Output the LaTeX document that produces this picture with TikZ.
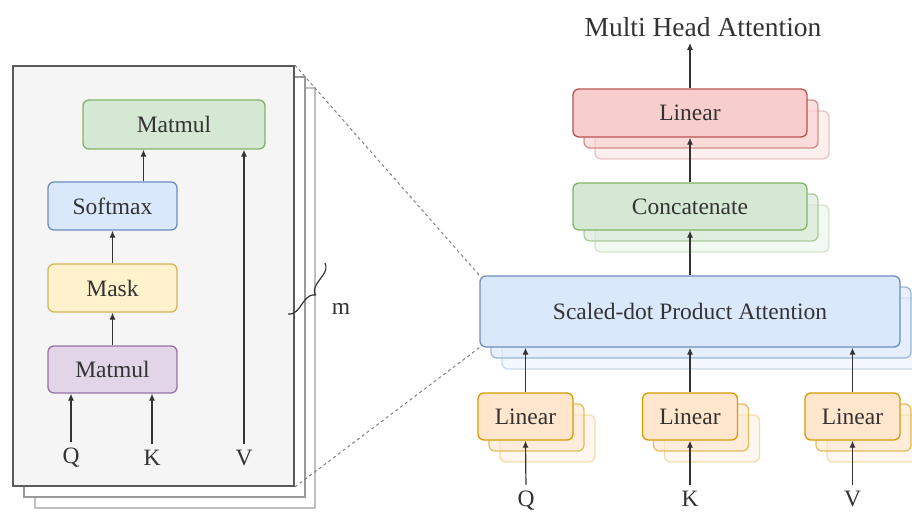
\documentclass[tikz,border=0pt]{standalone}
\usepackage{fontspec}
\setmainfont{Liberation Serif}
\usetikzlibrary{arrows.meta,decorations.pathreplacing}
\definecolor{txt}{HTML}{333333}
\definecolor{gfill}{HTML}{D5E8D4}\definecolor{gdraw}{HTML}{82B366}
\definecolor{bfill}{HTML}{DAE8FC}\definecolor{bdraw}{HTML}{6C8EBF}
\definecolor{yfill}{HTML}{FFF2CC}\definecolor{ydraw}{HTML}{D6B656}
\definecolor{pfill}{HTML}{E1D5E7}\definecolor{pdraw}{HTML}{9673A6}
\definecolor{ofill}{HTML}{FFE6CC}\definecolor{odraw}{HTML}{D79B00}
\definecolor{rfill}{HTML}{F8CECC}\definecolor{rdraw}{HTML}{B85450}
\definecolor{panelfill}{HTML}{F5F5F5}\definecolor{paneldraw}{HTML}{5A5A5A}
\tikzset{
  box/.style={rectangle, rounded corners=6pt, line width=1.3pt, inner sep=0pt,
    font=\fontsize{23.5}{28}\selectfont, text=txt},
  greenbox/.style={box, fill=gfill, draw=gdraw},
  bluebox/.style={box, fill=bfill, draw=bdraw},
  yellowbox/.style={box, fill=yfill, draw=ydraw},
  purplebox/.style={box, fill=pfill, draw=pdraw},
  orangebox/.style={box, fill=ofill, draw=odraw},
  redbox/.style={box, fill=rfill, draw=rdraw},
  ghosta/.style={fill opacity=0.6, draw opacity=0.6},
  ghostb/.style={fill opacity=0.3, draw opacity=0.3},
  lbl/.style={font=\fontsize{23.5}{28}\selectfont, text=txt, inner sep=2pt},
  arr/.style={draw=txt, line width=1.2pt, -{Latex[length=7pt,width=6pt]}},
  sheet/.style={rectangle, inner sep=0pt, fill=white, line width=1.3pt},
}
\begin{document}
\begin{tikzpicture}[x=1pt,y=-1pt]
\useasboundingbox (0,0) rectangle (912,511);
\clip (0,0) rectangle (912,511);
\fill[white] (0,0) rectangle (912,511);

% ---------- left panel (stack of sheets) ----------
\node[sheet, draw=black!25, minimum width=280pt, minimum height=420pt] (p3) at (175,298) {};
\node[sheet, draw=black!40, minimum width=281pt, minimum height=420pt] (p2) at (164.5,287) {};
\node[sheet, fill=panelfill, draw=paneldraw, line width=1.8pt, minimum width=281pt, minimum height=420pt] (panel) at (153.5,276) {};

\node[greenbox, minimum width=182pt, minimum height=49pt] (mm1) at (174,124.5) {Matmul};
\node[bluebox, minimum width=129pt, minimum height=48pt] (sm) at (112.5,206) {Softmax};
\node[yellowbox, minimum width=129pt, minimum height=48pt] (mask) at (112.5,288) {Mask};
\node[purplebox, minimum width=129pt, minimum height=47pt] (mm2) at (112.5,369.5) {Matmul};

\node[lbl] (lq) at (71,458) {Q};
\node[lbl] (lk) at (152,458) {K};
\node[lbl] (lv) at (244,458) {V};

\draw[arr, shorten <=4pt] (lq.north) -- (lq.north |- mm2.south);
\draw[arr, shorten <=4pt] (lk.north) -- (lk.north |- mm2.south);
\draw[arr, shorten <=4pt] (lv.north) -- (lv.north |- mm1.south);
\draw[arr] (mm2.north) -- (mask.south);
\draw[arr] (mask.north) -- (sm.south);
\draw[arr] ([xshift=31pt]sm.north) -- ([xshift=31pt]sm.north |- mm1.south);

% brace and m
\coordinate (bra) at (325,263);
\coordinate (brb) at (288,314);
\draw[draw=txt, line width=1.2pt, decorate, decoration={brace, amplitude=11pt, aspect=0.5}] (bra) -- (brb);
\node[lbl] (m) at (341,309) {m};

% ---------- right side ----------
% Scaled-dot product attention stack
\node[bluebox, ghostb, minimum width=420pt, minimum height=71pt] (sdpa3) at (712,333.5) {};
\node[bluebox, ghosta, minimum width=420pt, minimum height=71pt] (sdpa2) at (701,322.5) {};
\node[bluebox, minimum width=420pt, minimum height=71pt] (sdpa) at (690,311.5) {Scaled-dot Product Attention};

% Concatenate stack
\node[greenbox, ghostb, minimum width=234pt, minimum height=47pt] (cat3) at (712,228.5) {};
\node[greenbox, ghosta, minimum width=234pt, minimum height=47pt] (cat2) at (701,217.5) {};
\node[greenbox, minimum width=234pt, minimum height=47pt] (cat) at (690,206.5) {Concatenate};

% Linear (red) stack
\node[redbox, ghostb, minimum width=234pt, minimum height=48pt] (lin3) at (712,135) {};
\node[redbox, ghosta, minimum width=234pt, minimum height=48pt] (lin2) at (701,124) {};
\node[redbox, minimum width=234pt, minimum height=48pt] (lin) at (690,113) {Linear};

\node[font=\fontsize{27.5}{32}\selectfont, text=txt, inner sep=2pt] (title) at (703,27) {Multi Head Attention};

% Linear (orange) stacks
\foreach \n/\x in {lq/525.5, lk/690, lv/852.5}{
  \node[orangebox, ghostb, minimum width=95pt, minimum height=47pt] (\n3) at (\x+22,438.5) {};
  \node[orangebox, ghosta, minimum width=95pt, minimum height=47pt] (\n2) at (\x+11,427.5) {};
}
\node[orangebox, minimum width=95pt, minimum height=47pt] (linq) at (525.5,416.5) {Linear};
\node[orangebox, minimum width=95pt, minimum height=47pt] (link) at (690,416.5) {Linear};
\node[orangebox, minimum width=95pt, minimum height=47pt] (linv) at (852.5,416.5) {Linear};

\node[lbl, anchor=base] (rq) at (526,506.5) {Q};
\node[lbl, anchor=base] (rk) at (690,506.5) {K};
\node[lbl, anchor=base] (rv) at (852.5,506.5) {V};

\draw[arr, shorten <=4pt] (rq.north) -- (linq.south);
\draw[arr, shorten <=4pt] (rk.north) -- (link.south);
\draw[arr, shorten <=4pt] (rv.north) -- (linv.south);
\draw[arr] (linq.north) -- (linq.north |- sdpa.south);
\draw[arr] (link.north) -- (sdpa.south);
\draw[arr] (linv.north) -- (linv.north |- sdpa.south);
\draw[arr] (sdpa.north) -- (cat.south);
\draw[arr] (cat.north) -- (lin.south);
\draw[arr, shorten >=4pt] (lin.north) -- (lin.north |- title.south);

% dashed zoom lines
\draw[draw=black!50, line width=1pt, dash pattern=on 3pt off 3pt] (panel.north east) -- (sdpa.north west);
\draw[draw=black!50, line width=1pt, dash pattern=on 3pt off 3pt] (panel.south east) -- (sdpa.south west);
\end{tikzpicture}
\end{document}
